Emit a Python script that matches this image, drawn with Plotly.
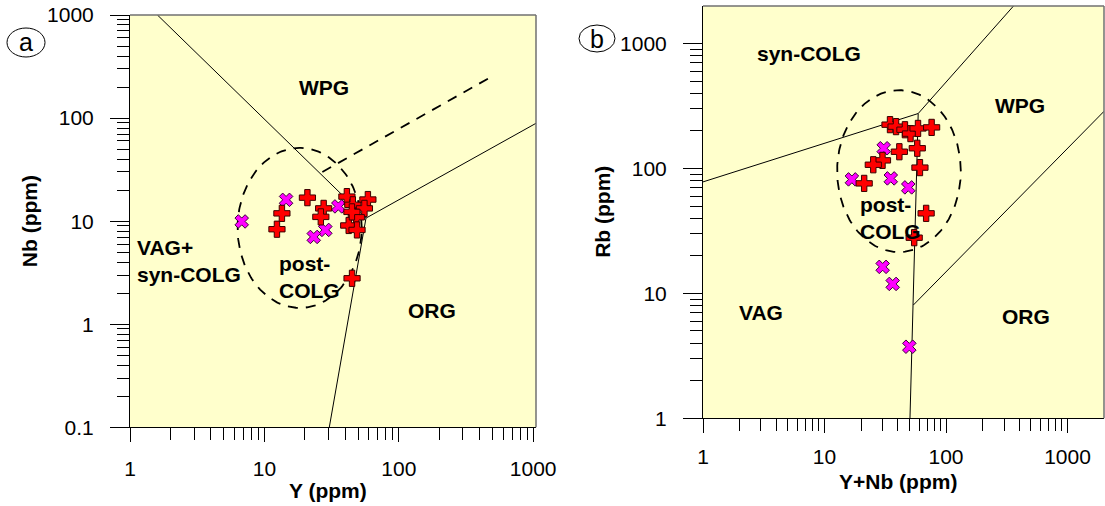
import numpy as np
import plotly.graph_objects as go

W, H = 1105, 506

# ---------------- Panel a : Y vs Nb ----------------
a_plus_Y  = [12.4, 13.5, 20.9, 27.6, 26.3, 41.1, 45.5, 58.9, 55.5, 48.3, 42.4, 48.9, 44.9, 44.8]
a_plus_Nb = [8.35, 11.9, 16.9, 13.3, 11.0, 17.3, 14.4, 16.2, 13.3, 10.9, 9.08, 8.22, 2.79, 12.3]
a_x_Y  = [6.78, 14.5, 35.5, 28.4, 23.3]
a_x_Nb = [9.93, 16.1, 13.9, 8.22, 7.03]

# field boundaries (panel a)
a_line1_x = [1.6, 57]
a_line1_y = [1000, 10.7]
a_line2_x = [30.4, 57, 1050]
a_line2_y = [0.1, 10.7, 89]
a_dash_x = [27, 500]
a_dash_y = [30, 256]
a_ell_center = (18.3, 8.6)      # ppm
a_ell_halfdec = (0.462, 0.776)  # half axes in log decades

# ---------------- Panel b : Y+Nb vs Rb ----------------
b_plus_YNb = [34.6, 38.8, 45.9, 51.0, 58.8, 76.1, 58.0, 41.3, 30.0, 25.2, 61.0, 21.2, 68.6, 54.7]
b_plus_Rb  = [224, 216, 204, 190, 209, 213, 145, 136, 116, 107, 101.5, 75.9, 43.7, 27.9]
b_x_YNb = [30.7, 16.8, 35.1, 48.9, 30.1, 36.4, 49.9]
b_x_Rb  = [145, 81.7, 83.2, 70.5, 16.3, 11.9, 3.74]

b_line1_x = [1, 59, 360]
b_line1_y = [78, 275, 2000]
b_line2_x = [59, 53.8, 50.5]
b_line2_y = [275, 8.06, 1]
b_line3_x = [53.8, 2000]
b_line3_y = [8.06, 287]
b_ell_center = (41.0, 95.1)
b_ell_halfdec = (0.509, 0.648)

# tick labels
a_xtick = [1, 10, 100, 1000]
a_ytick = [0.1, 1, 10, 100, 1000]
b_xtick = [1, 10, 100, 1000]
b_ytick = [1, 10, 100, 1000]


def minor_vals(lo_exp, hi_exp):
    return [m * 10.0 ** k for k in range(lo_exp, hi_exp) for m in range(2, 10)]


def ellipse(center, half):
    t = np.linspace(0, 2 * np.pi, 240)
    cx, cy = np.log10(center[0]), np.log10(center[1])
    return 10 ** (cx + half[0] * np.cos(t)), 10 ** (cy + half[1] * np.sin(t))


fig = go.Figure()
BL = dict(color='black', width=1)
DL = dict(color='black', width=1.8, dash='10px,8px')

for xa, ya, lines, dashes, ell in [
    ('x', 'y', [(a_line1_x, a_line1_y), (a_line2_x, a_line2_y)], [(a_dash_x, a_dash_y)], (a_ell_center, a_ell_halfdec)),
    ('x2', 'y2', [(b_line1_x, b_line1_y), (b_line2_x, b_line2_y), (b_line3_x, b_line3_y)], [], (b_ell_center, b_ell_halfdec)),
]:
    for lx, ly in lines:
        fig.add_trace(go.Scatter(x=lx, y=ly, mode='lines', line=BL, xaxis=xa, yaxis=ya, hoverinfo='skip'))
    for lx, ly in dashes:
        fig.add_trace(go.Scatter(x=lx, y=ly, mode='lines', line=DL, xaxis=xa, yaxis=ya, hoverinfo='skip'))
    ex, ey = ellipse(*ell)
    fig.add_trace(go.Scatter(x=ex, y=ey, mode='lines', line=DL, xaxis=xa, yaxis=ya, hoverinfo='skip'))

PLUS = dict(symbol='cross', size=13.5, color='#FF0000', line=dict(color='#3a0000', width=1))
XM = dict(symbol='x', size=12, color='#FF00FF', line=dict(color='#3a003a', width=1))

fig.add_trace(go.Scatter(x=a_x_Y, y=a_x_Nb, mode='markers', marker=XM, xaxis='x', yaxis='y'))
fig.add_trace(go.Scatter(x=a_plus_Y, y=a_plus_Nb, mode='markers', marker=PLUS, xaxis='x', yaxis='y'))
fig.add_trace(go.Scatter(x=b_x_YNb, y=b_x_Rb, mode='markers', marker=XM, xaxis='x2', yaxis='y2'))
fig.add_trace(go.Scatter(x=b_plus_YNb, y=b_plus_Rb, mode='markers', marker=PLUS, xaxis='x2', yaxis='y2'))

FONT = 'Arial, Liberation Sans, sans-serif'


def fmt(v):
    return '0.1' if v < 1 else str(int(v))


def axis(rng, dom, tv, minor, ticklen, standoff, anchor):
    return dict(type='log', range=rng, domain=dom, anchor=anchor, automargin=False,
                tickmode='array', tickvals=tv, ticktext=[fmt(v) for v in tv],
                ticks='outside', ticklen=ticklen, tickwidth=1, tickcolor='black',
                minor=dict(ticks='outside', ticklen=12, tickwidth=1, tickcolor='black', tickvals=minor),
                showgrid=False, zeroline=False, showline=True, linecolor='black', linewidth=1,
                tickfont=dict(size=21, family=FONT, color='black'), ticklabelstandoff=standoff)


fig.update_layout(
    template='none',
    width=W, height=H, margin=dict(l=0, r=0, t=0, b=0, pad=0, autoexpand=False),
    plot_bgcolor='#FFFFCC', paper_bgcolor='white', showlegend=False,
    font=dict(family=FONT, color='black'),
    xaxis=axis([0, 3.021], [130 / W, 536 / W], a_xtick, minor_vals(0, 3), 14, 8, 'y'),
    yaxis=axis([-1, 3], [1 - 427.3 / H, 1 - 15 / H], a_ytick, minor_vals(-1, 3), 19, 12, 'x'),
    xaxis2=axis([0, 3.3], [703 / W, 1104 / W], b_xtick, minor_vals(0, 4), 14, 5, 'y2'),
    yaxis2=axis([0, 3.3], [1 - 418.3 / H, 1 - 6 / H], b_ytick, minor_vals(0, 4), 19, 12, 'x2'),
)

# gray top / right frame
for xr, yr in [('x domain', 'y domain'), ('x2 domain', 'y2 domain')]:
    fig.add_shape(type='line', xref=xr, yref=yr, x0=0, x1=1, y0=1, y1=1, line=dict(color='#707070', width=1.5))
    fig.add_shape(type='line', xref=xr, yref=yr, x0=1, x1=1, y0=0, y1=1, line=dict(color='#707070', width=1.5))

# circled panel letters
for letter, (x0, x1, y0, y1) in [('a', (7, 45, 28, 57)), ('b', (579, 615, 25, 52))]:
    fig.add_shape(type='circle', xref='paper', yref='paper', x0=x0 / W, x1=x1 / W,
                  y0=1 - y1 / H, y1=1 - y0 / H, line=dict(color='black', width=1))
    fig.add_annotation(text=letter, xref='paper', yref='paper', x=(x0 + x1) / 2 / W, y=1 - (y0 + y1) / 2 / H,
                       showarrow=False, font=dict(size=25, family=FONT), xanchor='center', yanchor='middle')

LBL = dict(size=21, family=FONT, color='black')


def lab(text, x, y, xref, yref, xanchor='center', align='center'):
    fig.add_annotation(text='<b>' + text + '</b>', x=x, y=y, xref=xref, yref=yref, showarrow=False,
                       font=LBL, xanchor=xanchor, yanchor='middle', align=align)


# region labels panel a (positions given as log10 of data)
lab('WPG', 1.442, 2.292, 'x', 'y')
lab('ORG', 2.246, 0.129, 'x', 'y')
lab('VAG+<br>syn-COLG', 0.035, 0.609, 'x', 'y', 'left', 'left')
lab('post-<br>COLG', 1.092, 0.454, 'x', 'y', 'left', 'left')
# panel b
lab('syn-COLG', 0.873, 2.92, 'x2', 'y2')
lab('WPG', 2.611, 2.506, 'x2', 'y2')
lab('VAG', 0.477, 0.845, 'x2', 'y2')
lab('ORG', 2.657, 0.813, 'x2', 'y2')
lab('post-<br>COLG', 1.276, 1.6, 'x2', 'y2', 'left', 'left')

TF = dict(size=21, family=FONT, color='black')
fig.add_annotation(text='<b>Y (ppm)</b>', xref='x domain', yref='paper', x=0.488, y=1 - 490 / H,
                   showarrow=False, font=TF, yanchor='middle')
fig.add_annotation(text='<b>Y+Nb (ppm)</b>', xref='x2 domain', yref='paper', x=0.486, y=1 - 481 / H,
                   showarrow=False, font=TF, yanchor='middle')
fig.add_annotation(text='<b>Nb (ppm)</b>', xref='paper', yref='y domain', x=29 / W, y=0.5,
                   showarrow=False, font=TF, textangle=-90, xanchor='center')
fig.add_annotation(text='<b>Rb (ppm)</b>', xref='paper', yref='y2 domain', x=601.7 / W, y=0.5,
                   showarrow=False, font=TF, textangle=-90, xanchor='center')

fig.write_html('out.html')
